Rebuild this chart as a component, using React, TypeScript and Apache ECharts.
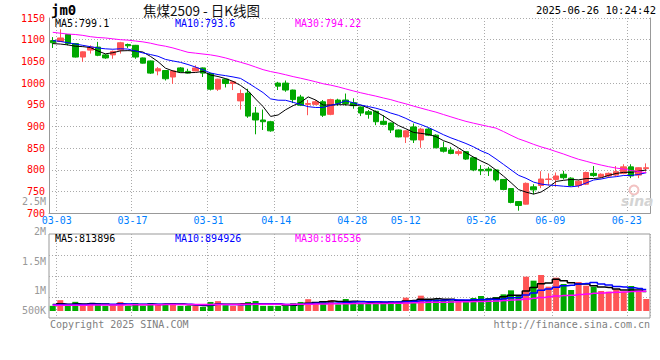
import React, { useEffect, useRef } from "react";
import * as echarts from "echarts";

// ---------------- data ----------------
const dates = [
  "02-28","03-03","03-04","03-05","03-06","03-07","03-10","03-11","03-12","03-13",
  "03-14","03-17","03-18","03-19","03-20","03-21","03-24","03-25","03-26","03-27",
  "03-28","03-31","04-01","04-02","04-03","04-07","04-08","04-09","04-10","04-11",
  "04-14","04-15","04-16","04-17","04-18","04-21","04-22","04-23","04-24","04-25",
  "04-28","04-29","04-30","05-06","05-07","05-08","05-09","05-12","05-13","05-14",
  "05-15","05-16","05-19","05-20","05-21","05-22","05-23","05-26","05-27","05-28",
  "05-29","05-30","06-03","06-04","06-05","06-06","06-09","06-10","06-11","06-12",
  "06-13","06-16","06-17","06-18","06-19","06-20","06-23","06-24","06-25","06-26",
];

const opens = [
  1098,1096,1112,1091,1060,1076,1083,1065,1065,1076,
  1089,1087,1058,1051,1028,1029,1014,1035,1027,1028,
  1035,1022,986,1009,999,959,977,931,915,911,
  1000,1000,984,968,951,951,957,928,961,961,
  955,945,934,935,912,908,892,876,899,869,
  894,880,851,846,838,842,828,801,802,800,
  778,757,727,721,761,764,778,778,790,781,
  764,767,792,784,786,788,792,807,788,803,
];
const closes = [
  1093,1104,1091,1060,1072,1083,1064,1058,1073,1093,
  1086,1060,1046,1023,1033,1010,1028,1026,1023,1035,
  1023,986,1009,999,1003,976,924,915,911,890,
  993,984,962,949,953,957,926,962,953,953,
  948,931,928,911,905,892,876,890,869,894,
  880,851,843,838,842,825,800,798,798,777,
  755,725,718,769,754,779,779,786,782,764,
  774,794,787,790,792,796,807,786,805,805,
];
const lows = [
  1081,1095,1087,1059,1049,1068,1062,1056,1056,1068,
  1081,1056,1045,1021,1018,1006,998,1025,1022,1027,
  1014,983,982,990,984,939,920,882,892,888,
  984,980,954,947,926,949,922,926,948,948,
  941,924,918,903,903,885,875,862,862,851,
  878,850,840,836,833,823,797,788,786,773,
  753,723,706,720,744,758,764,761,778,762,
  759,765,784,782,782,786,790,781,781,796,
];
const highs = [
  1106,1124,1113,1092,1073,1087,1095,1067,1075,1095,
  1091,1088,1059,1052,1037,1030,1029,1037,1033,1041,
  1036,1024,1010,1010,1004,985,987,945,939,913,
  1003,1006,985,973,961,961,961,964,964,976,
  965,946,938,937,926,909,893,891,907,897,
  897,882,865,853,847,843,830,811,807,801,
  779,758,728,771,767,797,792,794,798,783,
  776,796,809,792,794,809,813,813,806,815,
];
const volumes = [
  214000,450000,214000,380000,214000,320000,330000,214000,214000,375000,
  214000,330000,214000,330000,280000,280000,330000,214000,214000,214000,
  172000,375000,410000,240000,214000,240000,375000,410000,214000,214000,
  214000,214000,325000,375000,490000,370000,365000,450000,276000,498000,
  415000,318000,318000,318000,387000,415000,387000,553000,456000,636000,
  414000,484000,442000,442000,373000,373000,539000,622000,539000,580000,
  691000,857000,622000,1423000,1258000,1493000,1009000,1382000,1119000,871000,
  1202000,1050000,1009000,829000,802000,898000,802000,1037000,829000,498000,
];

const ma5Head = [1091, 1090, 1088, 1085];
const ma10Head = [1098, 1096, 1093, 1090, 1087, 1084, 1081, 1079, 1078];
const ma30Head = [
  1117,1115,1113,1112,1110,1107,1105,1104,1102,1100,
  1099,1097,1095,1092,1088,1085,1081,1076,1071,1069,
  1067,1065,1062,1058,1053,1048,1043,1037,1031,
];
const vma5Head = [270000, 300000, 282000, 300000];
const vma10Head = [262000, 268000, 266000, 274000, 272000, 280000, 285000, 282000, 283000];
const vma30Head = [
  236000,238000,240000,240000,243000,246000,248000,248000,250000,253000,
  255000,258000,258000,261000,263000,265000,266000,266000,268000,268000,
  267000,270000,273000,273000,273000,275000,277000,279000,279000,
];

const priceMin = 700;
const priceMax = 1150;
const priceStep = 50;
const dateTickLabels = ["03-03","03-17","03-31","04-14","04-28","05-12","05-26","06-09","06-23"];
const volTickLabels = ["2.5M", "2M", "1.5M", "1M", "500K"];

const headerCode = "jm0";
const headerTitle = "焦煤2509 - 日K线图";
const headerTime = "2025-06-26 10:24:42";
const priceLegend = ["MA5:799.1", "MA10:793.6", "MA30:794.22"];
const volLegend = ["MA5:813896", "MA10:894926", "MA30:816536"];
const copyrightText = "Copyright 2025 SINA.COM";
const urlText = "http://finance.sina.com.cn";
const watermarkText = "sina";

// ---------------- styling ----------------
const MONO = '"DejaVu Sans Mono", "Liberation Mono", monospace';
const UP = "#ff5555";
const DOWN = "#00a800";
const MA_COLORS = ["#000000", "#0000ff", "#ff00ff"];
const GRID_LINE = { color: "#aaaaaa", width: 1, type: [1, 2] as number[] };
const AXIS_LINE = { color: "#999999", width: 1 };

// which band edge each date gridline sits on (0 = left edge of the dated bar, 1 = right edge)
const gridlineSide = [0, 0, 0, 0, 1, 1, 1, 1, 1];
// horizontal nudge of each date label (px)
const labelShift = [-3.6, -2.9, -2.0, -1.8, -1.0, -0.1, 0.3, 1.7, 3.0];
// y centres of the volume-axis labels (px)
const volLabelY = [201.5, 231, 261, 290, 310];
const legendX = [55, 175, 295];

function movingAverage(values: number[], n: number, head: number[]) {
  return values.map((_, i) => {
    if (i < n - 1) return head[i];
    let s = 0;
    for (let j = i - n + 1; j <= i; j++) s += values[j];
    return Math.round((s / n) * 100) / 100;
  });
}

export default function App() {
  const ref = useRef<HTMLDivElement>(null);

  useEffect(() => {
    document.body.style.margin = "0";
    if (!ref.current) return;
    const chart = echarts.init(ref.current, null, { renderer: "svg" });

    const labelIdx = dateTickLabels.map((d) => dates.indexOf(d));
    const lineIdx = labelIdx.map((k, n) => k + gridlineSide[n]);

    const candleData = dates.map((_, i) => [opens[i], closes[i], lows[i], highs[i]]);
    const volData = volumes.map((v, i) => ({
      value: v,
      itemStyle: { color: closes[i] >= opens[i] ? UP : DOWN },
    }));

    const ma5 = movingAverage(closes, 5, ma5Head);
    const ma10 = movingAverage(closes, 10, ma10Head);
    const ma30 = movingAverage(closes, 30, ma30Head);
    const vma5 = movingAverage(volumes, 5, vma5Head);
    const vma10 = movingAverage(volumes, 10, vma10Head);
    const vma30 = movingAverage(volumes, 30, vma30Head);

    const rich: Record<string, any> = {};
    labelShift.forEach((s, n) => {
      rich["s" + n] = {
        color: "#0080ff",
        fontFamily: MONO,
        fontSize: 10,
        padding: s >= 0 ? [0, 0, 0, 2 * s] : [0, -2 * s, 0, 0],
      };
    });

    const txt = (
      text: string,
      x: number,
      y: number,
      fill: string,
      font: string,
      align: string = "left",
      lineHeight: number = 10
    ) => ({
      type: "text",
      silent: true,
      z: 100,
      style: {
        text,
        x,
        y,
        fill,
        font,
        lineHeight,
        textAlign: align,
        align,
        textVerticalAlign: "middle",
        verticalAlign: "middle",
      },
    });

    const graphic: any[] = [
      txt(headerCode, 51, 10, "#000", `bold 14px ${MONO}`, "left", 14),
      txt(headerTitle, 143, 9.5, "#111", '13.5px "Noto Sans CJK SC", sans-serif', "left", 14),
      txt(headerTime, 656, 10, "#000", `10.5px ${MONO}`, "right", 12),
      ...priceLegend.map((t, n) => txt(t, legendX[n], 23.5, MA_COLORS[n], `10px ${MONO}`)),
      ...volLegend.map((t, n) => txt(t, legendX[n], 238.5, MA_COLORS[n], `10px ${MONO}`)),
      ...volTickLabels.map((t, n) => txt(t, 46, volLabelY[n], "#999999", `10px ${MONO}`, "right")),
      txt(copyrightText, 50, 324, "#808080", `10px ${MONO}`),
      txt(urlText, 650, 324, "#808080", `10px ${MONO}`, "right"),
      txt(watermarkText, 621, 201, "#d4d4d4", 'italic bold 14px "DejaVu Sans", sans-serif', "left", 14),
      {
        type: "circle",
        silent: true,
        z: 99,
        shape: { cx: 634, cy: 190, r: 4.5 },
        style: { fill: "none", stroke: "#f2c2c2", lineWidth: 2 },
      },
    ];

    const option: any = {
      animation: false,
      backgroundColor: "#ffffff",
      grid: [
        { left: 49, width: 601, top: 18, height: 195.3, show: false },
        {
          left: 49,
          width: 601,
          top: 234,
          height: 84,
          show: true,
          borderColor: "#999999",
          borderWidth: 1,
          backgroundColor: "transparent",
        },
      ],
      xAxis: [
        {
          type: "category",
          gridIndex: 0,
          data: dates,
          boundaryGap: true,
          axisLine: { show: true, onZero: false, lineStyle: AXIS_LINE },
          axisTick: { show: false },
          axisLabel: {
            interval: (i: number) => labelIdx.includes(i),
            margin: 2,
            color: "#0080ff",
            fontFamily: MONO,
            fontSize: 10,
            formatter: (v: string, i: number) => `{s${labelIdx.indexOf(i)}|${v}}`,
            rich,
          },
          splitLine: {
            show: true,
            interval: (i: number) => lineIdx.includes(i),
            lineStyle: GRID_LINE,
          },
        },
        {
          type: "category",
          gridIndex: 1,
          data: dates,
          boundaryGap: true,
          axisLine: { show: false, onZero: false },
          axisTick: { show: false },
          axisLabel: { show: false },
          splitLine: {
            show: true,
            interval: (i: number) => lineIdx.includes(i),
            lineStyle: GRID_LINE,
          },
        },
      ],
      yAxis: [
        {
          type: "value",
          gridIndex: 0,
          min: priceMin,
          max: priceMax,
          interval: priceStep,
          axisLine: { show: true, lineStyle: AXIS_LINE },
          axisTick: { show: false },
          axisLabel: {
            color: "#ff0000",
            fontFamily: MONO,
            fontSize: 10,
            lineHeight: 10,
            margin: 4,
            formatter: (v: number) => String(v),
          },
          splitLine: { show: true, lineStyle: GRID_LINE },
        },
        {
          type: "value",
          gridIndex: 0,
          position: "right",
          min: priceMin,
          max: priceMax,
          interval: priceStep,
          axisLine: { show: true, lineStyle: AXIS_LINE },
          axisTick: { show: false },
          axisLabel: { show: false },
          splitLine: { show: false },
        },
        {
          type: "value",
          gridIndex: 1,
          min: -290000,
          max: 3193000,
          axisLine: { show: false },
          axisTick: { show: false },
          axisLabel: { show: false },
          splitLine: { show: false },
        },
        {
          type: "value",
          gridIndex: 1,
          min: 0,
          max: 4,
          interval: 1,
          axisLine: { show: false },
          axisTick: { show: false },
          axisLabel: { show: false },
          splitLine: { show: true, showMinLine: false, showMaxLine: false, lineStyle: GRID_LINE },
        },
      ],
      series: [
        {
          type: "candlestick",
          xAxisIndex: 0,
          yAxisIndex: 0,
          data: candleData,
          barWidth: 6,
          itemStyle: {
            color: UP,
            color0: DOWN,
            borderColor: UP,
            borderColor0: DOWN,
            borderWidth: 1,
          },
          z: 2,
        },
        ...[ma5, ma10, ma30].map((d, n) => ({
          type: "line",
          xAxisIndex: 0,
          yAxisIndex: 0,
          data: d,
          symbol: "none",
          smooth: false,
          lineStyle: { color: MA_COLORS[n], width: 1 },
          z: 3,
        })),
        {
          type: "bar",
          xAxisIndex: 1,
          yAxisIndex: 2,
          data: volData,
          barWidth: 6,
          z: 2,
        },
        ...[vma5, vma10, vma30].map((d, n) => ({
          type: "line",
          xAxisIndex: 1,
          yAxisIndex: 2,
          data: d,
          symbol: "none",
          step: "middle",
          lineStyle: { color: MA_COLORS[n], width: 1.5 },
          z: 3,
        })),
      ],
      graphic,
    };

    chart.setOption(option);
    return () => chart.dispose();
  }, []);

  return <div ref={ref} style={{ width: 660, height: 360, background: "#ffffff" }} />;
}
